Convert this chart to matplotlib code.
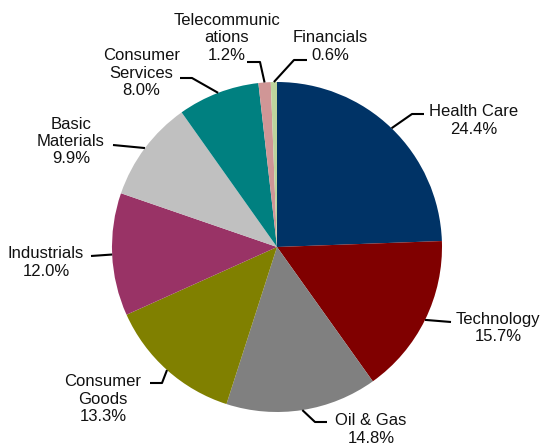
import numpy as np
import matplotlib
matplotlib.use("Agg")
import matplotlib.pyplot as plt

# Sector weights (%)
sectors = ["Health Care", "Technology", "Oil & Gas", "Consumer\nGoods", "Industrials",
           "Basic\nMaterials", "Consumer\nServices", "Telecommunic\nations", "Financials"]
shares = [24.4, 15.7, 14.8, 13.3, 12.0, 9.9, 8.0, 1.2, 0.6]
colors = ["#003366", "#800000", "#808080", "#808000", "#993366",
          "#C0C0C0", "#008080", "#D09696", "#BDD49D"]

W, H = 542, 446
fig = plt.figure(figsize=(W / 100, H / 100), dpi=100)
ax = fig.add_axes([0, 0, 1, 1])


def py(y):
    """Convert a top-down pixel row into the axis' bottom-up coordinate."""
    return H - y


cx, cy, r = 277, 247, 165
ax.pie(shares, colors=colors, startangle=90, counterclock=False,
       center=(cx, py(cy)), radius=r, wedgeprops=dict(linewidth=0),
       frame=True)
ax.set_xlim(0, W)
ax.set_ylim(0, H)
ax.set_aspect("equal")
ax.axis("off")

# label block centre and leader-line elbow points (pixel rows, top-down)
label_pos = [(474, 120.5), (498, 328), (371, 429.5), (103, 399),
             (46, 262.5), (71, 141.5), (141.5, 73), (227, 38), (330, 46.5)]
leaders = [
    [(412, 114), (424, 114)],
    [(451, 322)],
    [(315, 422), (327, 422)],
    [(162, 383), (150, 383)],
    [(91, 256)],
    [(113, 145)],
    [(192, 78), (180, 78)],
    [(260, 62), (247, 62)],
    [(294, 60), (307, 60)],
]

total = sum(shares)
start = 90.0
for name, val, (tx, ty), pts in zip(sectors, shares, label_pos, leaders):
    mid = np.deg2rad(start - val / total * 360 / 2)
    start -= val / total * 360
    ex, ey = cx + r * np.cos(mid), cy - r * np.sin(mid)
    xs = [ex] + [p[0] for p in pts]
    ys = [py(ey)] + [py(p[1]) for p in pts]
    ax.plot(xs, ys, color="black", lw=1.5, solid_capstyle="butt", zorder=3)
    ax.text(tx, py(ty), f"{name}\n{val:.1f}%", ha="center", va="center",
            multialignment="center", fontsize=12, family="Liberation Sans",
            color="#111111", linespacing=1.2)

fig.savefig("out.png", dpi=100)
